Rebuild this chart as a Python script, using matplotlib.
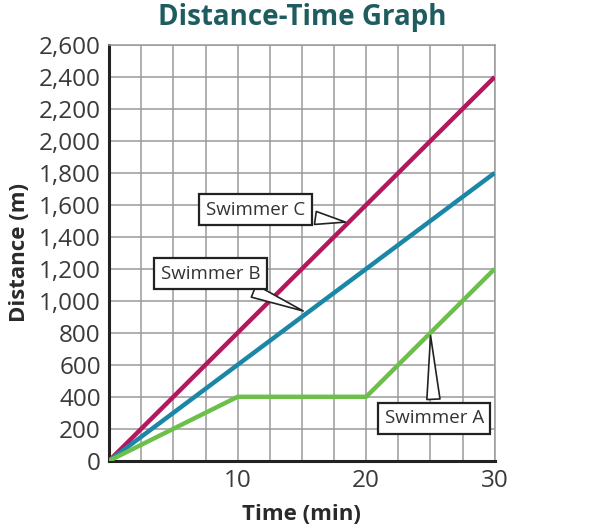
import matplotlib
matplotlib.use("Agg")
import matplotlib.pyplot as plt
from matplotlib.ticker import FuncFormatter, MultipleLocator

plt.rcParams['font.family'] = ['Open Sans', 'DejaVu Sans']

time_a = [0, 10, 20, 30]
dist_a = [0, 400, 400, 1200]
time_b = [0, 30]
dist_b = [0, 1800]
time_c = [0, 30]
dist_c = [0, 2400]

labels = ["Swimmer A", "Swimmer B", "Swimmer C"]
label_pos = [(25.3, 265), (7.9, 1170), (11.4, 1570)]
label_tip = [(25.0, 800), (15.3, 930), (18.6, 1490)]

col_a = "#6cc04a"
col_b = "#1b87a7"
col_c = "#b3185d"

fig = plt.figure(figsize=(6.13, 5.29), dpi=100)
ax = fig.add_axes([0.178, 0.129, 0.629, 0.786])

ax.set_xlim(0, 30)
ax.set_ylim(0, 2600)
ax.xaxis.set_major_locator(MultipleLocator(10))
ax.xaxis.set_minor_locator(MultipleLocator(2.5))
ax.yaxis.set_major_locator(MultipleLocator(200))
ax.grid(which='both', color='#9a9a9a', linewidth=1.1)
ax.set_axisbelow(True)

ax.plot(time_c, dist_c, color=col_c, lw=3.2, solid_capstyle='butt', zorder=3)
ax.plot(time_b, dist_b, color=col_b, lw=3.2, solid_capstyle='butt', zorder=3)
ax.plot(time_a, dist_a, color=col_a, lw=3.2, solid_capstyle='butt', zorder=3)

for lab, pos, tip in zip(labels, label_pos, label_tip):
    ax.annotate(lab, xy=tip, xytext=pos, ha='center', va='center',
                fontsize=13.5, color='#333333',
                bbox=dict(boxstyle='square,pad=0.35', fc='white', ec='#222222', lw=1.6),
                arrowprops=dict(arrowstyle='wedge,tail_width=0.7,shrink_factor=0.5',
                                fc='white', ec='#222222', lw=1.2),
                zorder=5)

def fmt(v, p):
    return f"{int(v):,}"
ax.yaxis.set_major_formatter(FuncFormatter(fmt))
ax.xaxis.set_major_formatter(FuncFormatter(lambda v, p: "" if v == 0 else f"{int(v)}"))

ax.tick_params(axis='both', which='both', length=0, labelsize=17.5, labelcolor='#3a3a3a')
ax.tick_params(axis='y', pad=6)
ax.tick_params(axis='x', pad=6)

for s in ['top', 'right']:
    ax.spines[s].set_color('#9a9a9a')
    ax.spines[s].set_linewidth(1.1)
for s in ['left', 'bottom']:
    ax.spines[s].set_color('#222222')
    ax.spines[s].set_linewidth(2.2)

ax.set_xlabel("Time (min)", fontsize=16, fontweight='bold', color='#2a2a2a', labelpad=8)
ax.set_ylabel("Distance (m)", fontsize=16, fontweight='bold', color='#2a2a2a', labelpad=6)
fig.text(0.493, 0.967, "Distance-Time Graph", ha='center', va='center',
         fontsize=20, fontweight='bold', color='#1e5c60')

fig.savefig("out.png", dpi=100)
